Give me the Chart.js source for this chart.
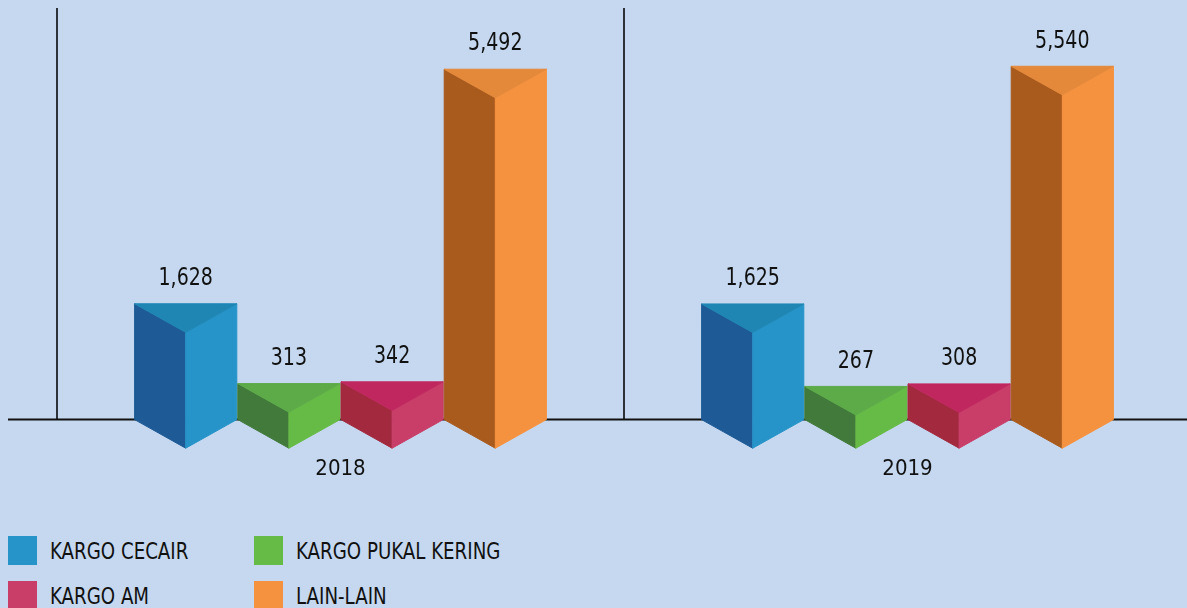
<!DOCTYPE html>
<html>
<head>
<meta charset="utf-8">
<script src="https://cdn.jsdelivr.net/npm/chart.js@4.4.1/dist/chart.umd.min.js"></script>
<style>
  html, body { margin: 0; padding: 0; background: #C5D8EF; overflow: hidden; width: 1187px; height: 608px; }
  #wrap { position: absolute; left: 0; top: 0; width: 1200px; height: 536px; }
  #legend {
    position: absolute; left: 8px; top: 536px;
    display: grid; grid-template-columns: 246px auto; row-gap: 16px;
    font-family: 'DejaVu Sans Condensed', 'DejaVu Sans', sans-serif;
    font-size: 23px; color: #111;
  }
  .item { display: flex; align-items: center; height: 29px; white-space: nowrap; }
  .sw { width: 29px; height: 29px; margin-right: 13px; flex: none; }
  .txt { display: inline-block; transform: scaleX(0.88); transform-origin: left center; }
</style>
</head>
<body>
<div id="wrap"><canvas id="chart" width="1200" height="536"></canvas></div>
<div id="legend"></div>
<script>
const FONT = "'DejaVu Sans Condensed', 'DejaVu Sans', sans-serif";

// data
const categories = ["2018", "2019"];
const seriesNames = ["KARGO CECAIR", "KARGO PUKAL KERING", "KARGO AM", "LAIN-LAIN"];
const kargoCecair = [1628, 1625];
const kargoPukalKering = [313, 267];
const kargoAm = [342, 308];
const lainLain = [5492, 5540];
const seriesValues = [kargoCecair, kargoPukalKering, kargoAm, lainLain];

// axis range (the bars sit on a floor below zero)
const Y_MIN = -280;
const Y_MAX = 6500;

// colours: [left face, right face, top face]
const faceColors = [
  ["#1D5A96", "#2694C8", "#1F86B4"],
  ["#417A3A", "#66BA46", "#5CAB48"],
  ["#A2293E", "#C83E68", "#C0275F"],
  ["#A95B1E", "#F5923F", "#E4883A"],
];

function face(ctx, pts, color) {
  ctx.fillStyle = color;
  ctx.strokeStyle = color;
  ctx.lineWidth = 1;
  ctx.beginPath();
  pts.forEach(([px, py], k) => (k ? ctx.lineTo(px, py) : ctx.moveTo(px, py)));
  ctx.closePath();
  ctx.fill();
  ctx.stroke();
}

const prismPlugin = {
  id: "prisms",
  beforeDatasetsDraw(chart) {
    const { ctx, chartArea } = chart;
    ctx.save();
    ctx.strokeStyle = "#111";
    ctx.lineWidth = 2;
    ctx.beginPath();
    ctx.moveTo(8, chartArea.bottom);
    ctx.lineTo(chart.width, chartArea.bottom);
    ctx.stroke();
    ctx.restore();
  },
  afterDatasetsDraw(chart) {
    const ctx = chart.ctx;
    chart.data.datasets.forEach((ds, i) => {
      const meta = chart.getDatasetMeta(i);
      const [leftC, rightC, topC] = faceColors[i];
      meta.data.forEach((bar, j) => {
        const { x, y, base, width } = bar.getProps(["x", "y", "base", "width"], true);
        const hw = width / 2 - 0.5;
        const d = width * 0.277;
        ctx.save();
        face(ctx, [[x - hw, y], [x, y + d], [x, base + d], [x - hw, base]], leftC);
        face(ctx, [[x + hw, y], [x, y + d], [x, base + d], [x + hw, base]], rightC);
        face(ctx, [[x - hw, y], [x + hw, y], [x, y + d]], topC);
        // value label (narrowed)
        ctx.translate(x, y - 25);
        ctx.scale(0.88, 1);
        ctx.fillStyle = "#111";
        ctx.font = "24px " + FONT;
        ctx.textAlign = "center";
        ctx.textBaseline = "middle";
        ctx.fillText(ds.data[j].toLocaleString("en-US"), 0, 0);
        ctx.restore();
      });
    });
  },
};

new Chart(document.getElementById("chart").getContext("2d"), {
  type: "bar",
  data: {
    labels: categories,
    datasets: seriesNames.map((name, i) => ({
      label: name,
      data: seriesValues[i],
      backgroundColor: "rgba(0,0,0,0)",
      borderWidth: 0,
      base: Y_MIN,
      categoryPercentage: 0.728,
      barPercentage: 1,
    })),
  },
  options: {
    responsive: false,
    animation: false,
    layout: { padding: { left: 57, right: 9, top: 8, bottom: 18 } },
    plugins: { legend: { display: false }, tooltip: { enabled: false } },
    scales: {
      x: {
        grid: { display: true, drawTicks: false, color: "#2d3138", lineWidth: 2, offset: true },
        border: { display: false },
        ticks: { padding: 36, color: "#111", font: { family: FONT, size: 22 } },
      },
      y: { display: false, min: Y_MIN, max: Y_MAX },
    },
  },
  plugins: [prismPlugin],
});

// legend
const legend = document.getElementById("legend");
seriesNames.forEach((name, i) => {
  legend.innerHTML += `<div class="item"><span class="sw" style="background:${faceColors[i][1]}"></span><span class="txt">${name}</span></div>`;
});
</script>
</body>
</html>
